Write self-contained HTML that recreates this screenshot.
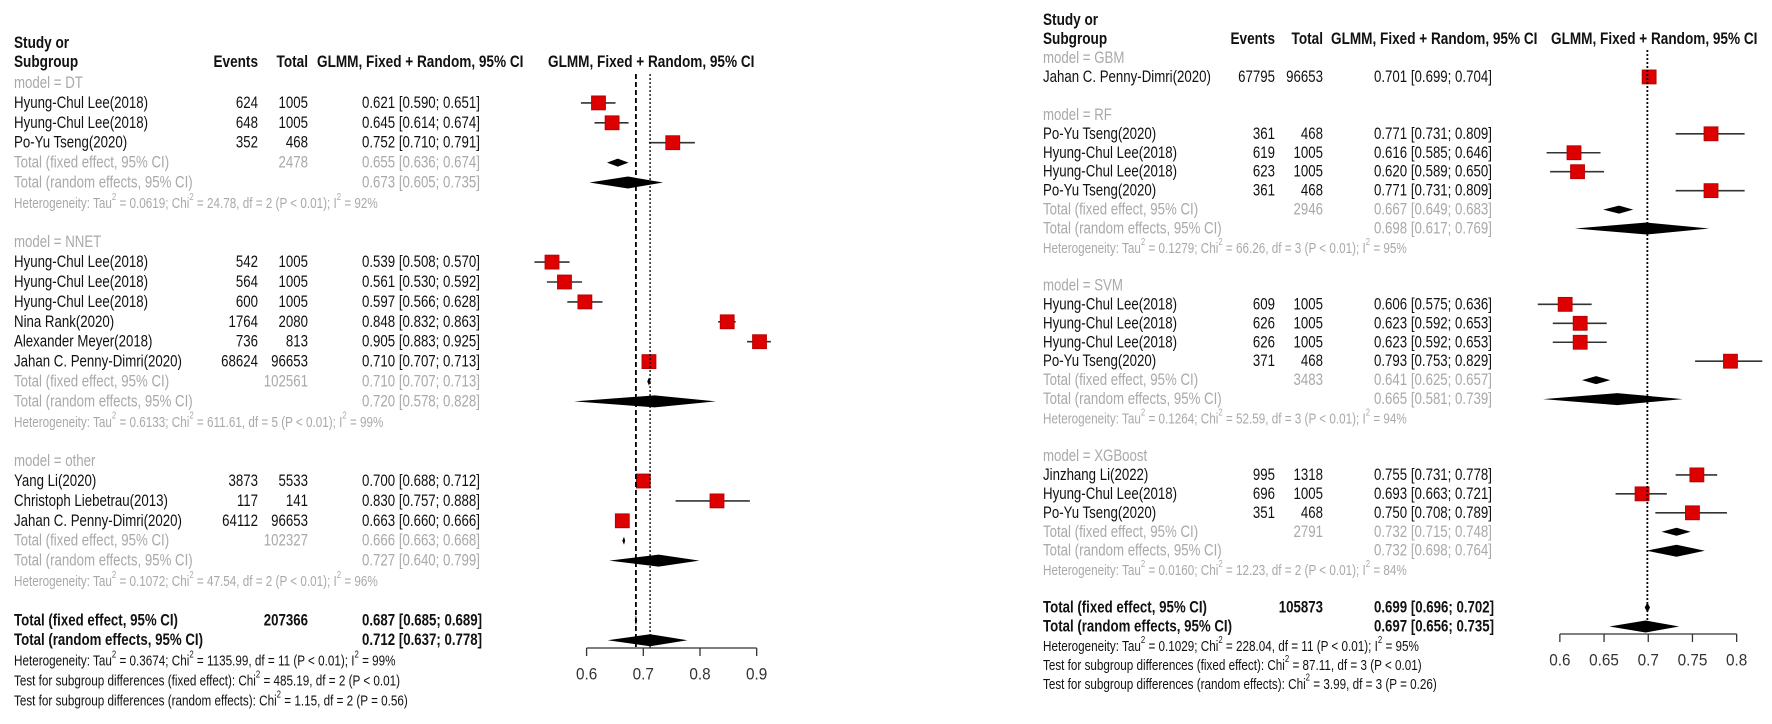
<!DOCTYPE html>
<html><head><meta charset="utf-8"><style>
html,body{margin:0;padding:0;background:#fff;}
svg{display:block;}
text{font-family:"Liberation Sans",sans-serif;font-size:17px;fill:#111;}
.g{fill:#a9a9a9;}
.h{font-size:15px;}
.b{font-weight:bold;}
.tk{font-size:17px;fill:#333;}
</style></head><body>
<svg id="chart" width="1772" height="724" viewBox="0 0 1772 724" xmlns="http://www.w3.org/2000/svg"></svg>
<script>
// ---------- LEFT PANEL DATA ----------
const leftGroups = ["DT","NNET","other"];
const leftStudies = [
 [["Hyung-Chul Lee(2018)",624,1005,0.621,0.590,0.651],["Hyung-Chul Lee(2018)",648,1005,0.645,0.614,0.674],["Po-Yu Tseng(2020)",352,468,0.752,0.710,0.791]],
 [["Hyung-Chul Lee(2018)",542,1005,0.539,0.508,0.570],["Hyung-Chul Lee(2018)",564,1005,0.561,0.530,0.592],["Hyung-Chul Lee(2018)",600,1005,0.597,0.566,0.628],["Nina Rank(2020)",1764,2080,0.848,0.832,0.863],["Alexander Meyer(2018)",736,813,0.905,0.883,0.925],["Jahan C. Penny-Dimri(2020)",68624,96653,0.710,0.707,0.713]],
 [["Yang Li(2020)",3873,5533,0.700,0.688,0.712],["Christoph Liebetrau(2013)",117,141,0.830,0.757,0.888],["Jahan C. Penny-Dimri(2020)",64112,96653,0.663,0.660,0.666]]
];
const leftFixed = [[2478,0.655,0.636,0.674],[102561,0.710,0.707,0.713],[102327,0.666,0.663,0.668]];
const leftRandom = [[0.673,0.605,0.735],[0.720,0.578,0.828],[0.727,0.640,0.799]];
const leftHet = [["0.0619","24.78","2","P < 0.01","92%"],["0.6133","611.61","5","P < 0.01","99%"],["0.1072","47.54","2","P < 0.01","96%"]];
const leftOverallFixed = [207366,0.687,0.685,0.689];
const leftOverallRandom = [0.712,0.637,0.778];
const leftOverallHet = ["0.3674","1135.99","11","P < 0.01","99%"];
const leftTests = [["fixed effect","485.19","2","P < 0.01"],["random effects","1.15","2","P = 0.56"]];
const leftTicks = [0.6,0.7,0.8,0.9];

// ---------- RIGHT PANEL DATA ----------
const rightGroups = ["GBM","RF","SVM","XGBoost"];
const rightStudies = [
 [["Jahan C. Penny-Dimri(2020)",67795,96653,0.701,0.699,0.704]],
 [["Po-Yu Tseng(2020)",361,468,0.771,0.731,0.809],["Hyung-Chul Lee(2018)",619,1005,0.616,0.585,0.646],["Hyung-Chul Lee(2018)",623,1005,0.620,0.589,0.650],["Po-Yu Tseng(2020)",361,468,0.771,0.731,0.809]],
 [["Hyung-Chul Lee(2018)",609,1005,0.606,0.575,0.636],["Hyung-Chul Lee(2018)",626,1005,0.623,0.592,0.653],["Hyung-Chul Lee(2018)",626,1005,0.623,0.592,0.653],["Po-Yu Tseng(2020)",371,468,0.793,0.753,0.829]],
 [["Jinzhang Li(2022)",995,1318,0.755,0.731,0.778],["Hyung-Chul Lee(2018)",696,1005,0.693,0.663,0.721],["Po-Yu Tseng(2020)",351,468,0.750,0.708,0.789]]
];
const rightFixed = [null,[2946,0.667,0.649,0.683],[3483,0.641,0.625,0.657],[2791,0.732,0.715,0.748]];
const rightRandom = [null,[0.698,0.617,0.769],[0.665,0.581,0.739],[0.732,0.698,0.764]];
const rightHet = [null,["0.1279","66.26","3","P < 0.01","95%"],["0.1264","52.59","3","P < 0.01","94%"],["0.0160","12.23","2","P < 0.01","84%"]];
const rightOverallFixed = [105873,0.699,0.696,0.702];
const rightOverallRandom = [0.697,0.656,0.735];
const rightOverallHet = ["0.1029","228.04","11","P < 0.01","95%"];
const rightTests = [["fixed effect","87.11","3","P < 0.01"],["random effects","3.99","3","P = 0.26"]];
const rightTicks = [0.6,0.65,0.7,0.75,0.8];

const SX = 0.78;
const SXH = 0.8;
const svg = document.getElementById('chart');
const NS = "http://www.w3.org/2000/svg";
function mk(tag, attrs, parent){const e=document.createElementNS(NS,tag);for(const k in attrs)e.setAttribute(k,attrs[k]);(parent||svg).appendChild(e);return e;}
function ntext(x,y,cls,anchor,parent,sx){
  return mk('text',{x:0,y:0,'dominant-baseline':'central','text-anchor':anchor||'start',class:cls||'',transform:'translate('+x+','+y+') scale('+(sx||SX)+',1)'},parent);
}
function txt(x,y,s,cls,anchor,parent,sx){const t=ntext(x,y,cls,anchor,parent,sx);t.textContent=s;return t;}
function fmt(v){return v.toFixed(3);}
function ci(a,b,c){return fmt(a)+" ["+fmt(b)+"; "+fmt(c)+"]";}
function supParts(t,parts){
  let up=false;
  parts.forEach(p=>{
    const s=mk('tspan',{},t);
    if(p[1]){s.setAttribute('dy','-6');s.setAttribute('font-size','10');up=true;}
    else if(up){s.setAttribute('dy','6');up=false;}
    s.textContent=p[0];
  });
}
function hetText(x,y,h,cls,parent){
  const t=ntext(x,y,cls,'start',parent);
  supParts(t,[["Heterogeneity: Tau",0],["2",1],[" = "+h[0]+"; Chi",0],["2",1],[" = "+h[1]+", df = "+h[2]+" ("+h[3]+"); I",0],["2",1],[" = "+h[4],0]]);
  return t;
}
function testText(x,y,tt,parent){
  const t=ntext(x,y,'h','start',parent);
  supParts(t,[["Test for subgroup differences ("+tt[0]+"): Chi",0],["2",1],[" = "+tt[1]+", df = "+tt[2]+" ("+tt[3]+")",0]]);
  return t;
}
function diamond(g,xs,y,est,lo,hi,h,name){
  const p=mk('polygon',{points:xs(lo)+","+y+" "+xs(est)+","+(y-h)+" "+xs(hi)+","+y+" "+xs(est)+","+(y+h),fill:'#000'},g);
  
  
}

function drawPanel(P){
  const g=mk('g',{});
  
  
  const xs=v=>P.x0+(v-P.v0)*P.k;
  const ry=i=>P.y0+i*P.dy;
  txt(P.tx,P.hy-19,"Study or","b",'start',g,SXH);
  txt(P.tx,P.hy,"Subgroup","b",'start',g,SXH);
  txt(P.ex,P.hy,"Events","b",'end',g,SXH);
  txt(P.nx,P.hy,"Total","b",'end',g,SXH);
  txt(P.chx,P.hy,"GLMM, Fixed + Random, 95% CI","b",'start',g,SXH);
  txt(P.px,P.hy,"GLMM, Fixed + Random, 95% CI","b",'start',g,SXH);
  let row=0;
  P.groups.forEach((gname,gi)=>{
    txt(P.tx,ry(row),"model = "+gname,"g",'start',g); row++;
    P.studies[gi].forEach(s=>{
      const y=ry(row);
      txt(P.tx,y,s[0],"",'start',g);
      txt(P.ex,y,String(s[1]),"",'end',g);
      txt(P.nx,y,String(s[2]),"",'end',g);
      txt(P.cx,y,ci(s[3],s[4],s[5]),"",'start',g);
      const ln=mk('line',{x1:xs(s[4]),x2:xs(s[5]),y1:y,y2:y,stroke:'#333','stroke-width':1.6},g);
      
      
      const sq=mk('rect',{x:xs(s[3])-7,y:y-7,width:14,height:14,fill:'#dd0000',stroke:'#b00000','stroke-width':0.8},g);
      
      
      row++;
    });
    if(P.fixed[gi]){
      const f=P.fixed[gi], r=P.random[gi];
      let y=ry(row);
      txt(P.tx,y,"Total (fixed effect, 95% CI)","g",'start',g);
      txt(P.nx,y,String(f[0]),"g",'end',g);
      txt(P.cx,y,ci(f[1],f[2],f[3]),"g",'start',g);
      diamond(g,xs,y,f[1],f[2],f[3],4,'subgroup-fixed-diamond'); row++;
      y=ry(row);
      txt(P.tx,y,"Total (random effects, 95% CI)","g",'start',g);
      txt(P.cx,y,ci(r[0],r[1],r[2]),"g",'start',g);
      diamond(g,xs,y,r[0],r[1],r[2],6,'subgroup-random-diamond'); row++;
      hetText(P.tx,ry(row),P.het[gi],"g h",g); row++;
    }
    row++;
  });
  let y=ry(row);
  txt(P.tx,y,"Total (fixed effect, 95% CI)","b",'start',g);
  txt(P.nx,y,String(P.of[0]),"b",'end',g);
  txt(P.cx,y,ci(P.of[1],P.of[2],P.of[3]),"b",'start',g);
  diamond(g,xs,y,P.of[1],P.of[2],P.of[3],5,'overall-fixed-diamond'); row++;
  y=ry(row);
  txt(P.tx,y,"Total (random effects, 95% CI)","b",'start',g);
  txt(P.cx,y,ci(P.or[0],P.or[1],P.or[2]),"b",'start',g);
  diamond(g,xs,y,P.or[0],P.or[1],P.or[2],6,'overall-random-diamond'); row++;
  hetText(P.tx,ry(row),P.oh,"h",g); row++;
  P.tests.forEach(tt=>{testText(P.tx,ry(row),tt,g);row++;});
  const l1=mk('line',{x1:xs(P.of[1]),x2:xs(P.of[1]),y1:P.ly0,y2:P.ay,stroke:'#000','stroke-width':1.8,'stroke-dasharray':P.dashFixed},g);
  
  
  if(P.showRandomLine){
    const l2=mk('line',{x1:xs(P.or[0]),x2:xs(P.or[0]),y1:P.ly0,y2:P.ay,stroke:'#000','stroke-width':1.3,'stroke-dasharray':'2,2'},g);
    
    
  }
  const ax=mk('line',{x1:xs(P.ticks[0]),x2:xs(P.ticks[P.ticks.length-1]),y1:P.ay,y2:P.ay,stroke:'#333','stroke-width':1.3},g);
  
  
  P.ticks.forEach(t=>{
    mk('line',{x1:xs(t),x2:xs(t),y1:P.ay,y2:P.ay+8,stroke:'#333','stroke-width':1.3},g);
    const lb=txt(xs(t),P.ay+26,String(t),"tk",'middle',g,0.9);
    
    
  });
}

drawPanel({name:'left-forest-panel',groups:leftGroups,studies:leftStudies,fixed:leftFixed,random:leftRandom,het:leftHet,
  of:leftOverallFixed,or:leftOverallRandom,oh:leftOverallHet,tests:leftTests,ticks:leftTicks,
  x0:552,v0:0.539,k:567,y0:83,dy:19.9,hy:62,tx:14,ex:258,nx:308,cx:362,chx:317,px:548,ly0:74,ay:648,dashFixed:'5,3',showRandomLine:true});
drawPanel({name:'right-forest-panel',groups:rightGroups,studies:rightStudies,fixed:rightFixed,random:rightRandom,het:rightHet,
  of:rightOverallFixed,or:rightOverallRandom,oh:rightOverallHet,tests:rightTests,ticks:rightTicks,
  x0:1574,v0:0.616,k:884,y0:58,dy:18.95,hy:39,tx:1043,ex:1275,nx:1323,cx:1374,chx:1331,px:1551,ly0:50,ay:634,dashFixed:'2,2',showRandomLine:false});
</script>
</body></html>
